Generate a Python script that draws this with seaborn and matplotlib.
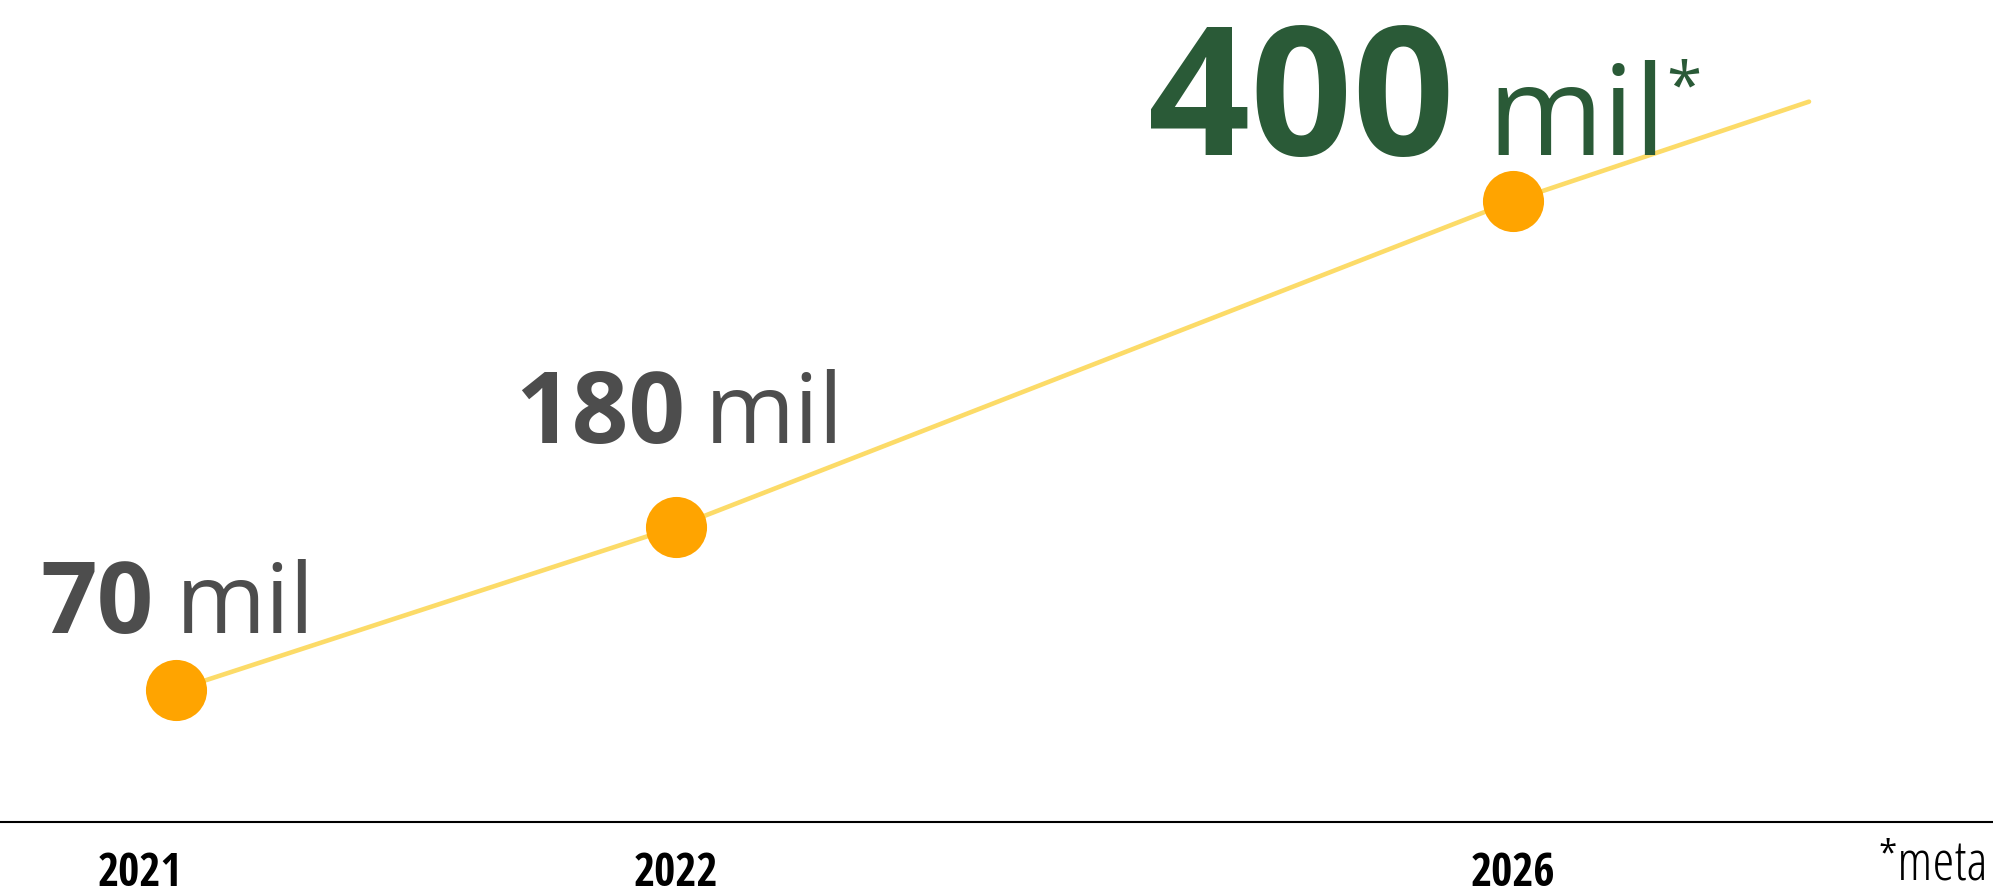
import matplotlib
matplotlib.use('Agg')
import numpy as np
import pandas as pd
import seaborn as sns
import matplotlib.pyplot as plt

# dados
anos = ['2021', '2022', '2026']
valores = [70, 180, 400]
posicao = [0.0, 1.0, 2.674]          # posicao de cada ano no eixo (nao proporcional)
rotulos = ['70', '180', '400']
# vertices da linha: passa pelos pontos, dobra um pouco depois de 2022 e segue ate a meta
linha_pos = [0.0, 1.0, 1.32, 2.674, 3.266]
linha_val = [70, 180, 222, 400, 467]
tick_pos = [-0.072, 1.0, 2.674]

CINZA = '#4d4d4d'
VERDE = '#2a5a37'
LARANJA = '#ffa400'
AMARELO = '#fcdb68'

sns.set_theme(style='white')
plt.rcParams['font.family'] = ['Open Sans', 'DejaVu Sans']
NARROW = ['Open Sans Condensed', 'Roboto Condensed', 'Liberation Sans Narrow',
          'DejaVu Sans']
NARROW_LIGHT = ['Open Sans Condensed Light', 'Open Sans', 'DejaVu Sans']

df = pd.DataFrame({'ano': anos, 'valor': valores, 'pos': posicao})
df_linha = pd.DataFrame({'pos': linha_pos, 'valor': linha_val})

fig = plt.figure(figsize=(19.93, 8.93), dpi=100)
ax = fig.add_axes([0, 71 / 893, 1, 822 / 893])

sns.lineplot(data=df_linha, x='pos', y='valor', ax=ax, color=AMARELO,
             linewidth=3.3, sort=False, zorder=2)
sns.scatterplot(data=df, x='pos', y='valor', ax=ax, color=LARANJA,
                s=44 ** 2, linewidth=0, zorder=3)

ax.set_xlim(-0.352, 3.634)
ax.set_ylim(-19.1, 535.6)

# rotulos de valor: (dx, dy) em pixels a partir do ponto, tamanhos, cor
offsets = [(-136, 57), (-161, 84), (-365, 46)]
gap_mil = [23, 20, 33]
tam_num = [71.5, 71.5, 129]
tam_mil = [70, 70, 90]
cores = [CINZA, CINZA, VERDE]

for i in range(len(valores)):
    num = ax.annotate(rotulos[i], xy=(posicao[i], valores[i]), xycoords='data',
                      xytext=offsets[i], textcoords='offset pixels',
                      ha='left', va='baseline', fontsize=tam_num[i],
                      fontweight='bold', color=cores[i])
    # "mil" na mesma linha de base do numero, logo depois dele
    mil = ax.annotate('mil', xy=(1, valores[i]), xycoords=(num, 'data'),
                      xytext=(gap_mil[i], offsets[i][1]),
                      textcoords='offset pixels', ha='left', va='baseline',
                      fontsize=tam_mil[i], color=cores[i])
    if i == len(valores) - 1:
        ax.annotate('*', xy=(1, 1), xycoords=mil, xytext=(0, 1),
                    textcoords='offset pixels', ha='left', va='top',
                    fontsize=46, color=cores[i])

ax.set_xticks(tick_pos, anos, fontfamily=NARROW, fontstretch='condensed',
              fontweight='bold', fontsize=33, color='black')
ax.tick_params(axis='x', length=0, pad=20)
ax.set_yticks([])
ax.set_xlabel('')
ax.set_ylabel('')
for lado in ['left', 'top', 'right']:
    ax.spines[lado].set_visible(False)
ax.spines['bottom'].set_color('black')
ax.spines['bottom'].set_linewidth(1.5)
ax.patch.set_alpha(0)

fig.text(1988 / 1993, 13 / 893, '*meta', ha='right', va='baseline',
         fontsize=40, fontfamily=NARROW_LIGHT, fontstretch='condensed',
         fontweight='light', color='black')

fig.savefig('out.png', dpi=100)
